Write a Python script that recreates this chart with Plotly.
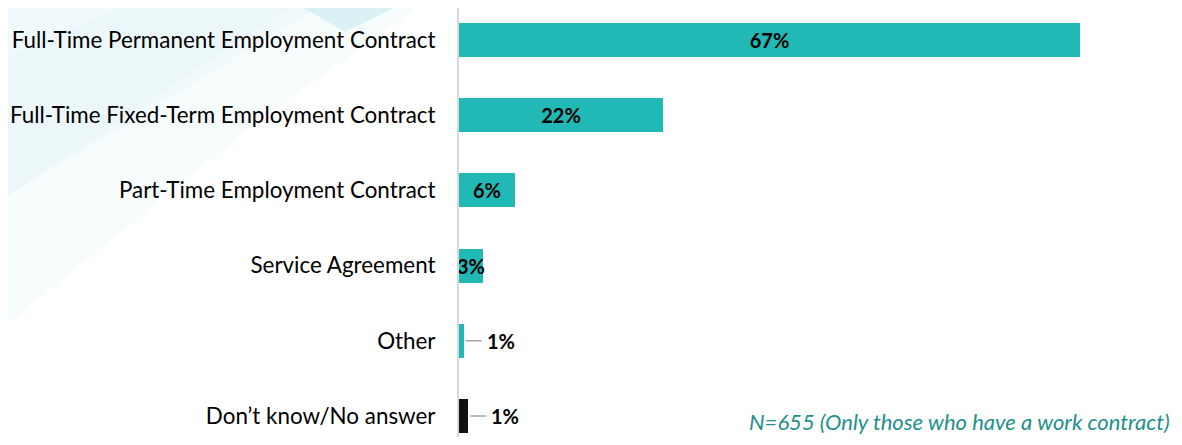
import plotly.graph_objects as go

# survey answers, top to bottom
categories = [
    "Full-Time Permanent Employment Contract",
    "Full-Time Fixed-Term Employment Contract",
    "Part-Time Employment Contract",
    "Service Agreement",
    "Other",
    "Don\u2019t know/No answer",
]
bar_lengths = [67, 22, 6, 2.6, 0.5, 1.0]
value_labels = ["67%", "22%", "6%", "3%", "1%", "1%"]
bar_colors = ["#21B9B5", "#21B9B5", "#21B9B5", "#21B9B5", "#21B9B5", "#111111"]
note = "N=655 (Only those who have a work contract)"

# the page has an 8px body margin, so the figure is sized to fit inside it
W, H = 1166, 429
L, R = 451, 32


def to_paper(px, py):
    # page pixel -> paper coords (paper spans the plot area)
    return (px - 8 - L) / (W - L - R), 1 - (py - 8) / H


def poly(points):
    pts = [to_paper(x, y) for x, y in points]
    return "M " + " L ".join(f"{x:.4f} {y:.4f}" for x, y in pts) + " Z"


inside_text = [t if v >= 2 else "" for v, t in zip(bar_lengths, value_labels)]

fig = go.Figure()
fig.add_trace(go.Bar(
    x=bar_lengths,
    y=categories,
    orientation="h",
    width=0.45,
    marker=dict(color=bar_colors, line=dict(width=0)),
    text=inside_text,
    textposition="inside",
    insidetextanchor="middle",
    textangle=0,
    constraintext="none",
    textfont=dict(family="Lato", size=20, color="black", weight="bold"),
    hoverinfo="skip",
))

# small bars get their label outside with a short leader line
for v, cat, t in zip(bar_lengths, categories, value_labels):
    if v < 2:
        fig.add_annotation(
            x=v, y=cat, text="<b>" + t + "</b>",
            showarrow=True, arrowhead=0, arrowwidth=1.5, arrowcolor="#a6a6a6",
            ax=18, ay=0, xanchor="left", standoff=2, borderpad=4,
            font=dict(family="Lato", size=20, color="black"),
        )

fig.add_annotation(
    x=to_paper(1172, 0)[0], y=to_paper(0, 437)[1], xref="paper", yref="paper",
    xanchor="right", yanchor="bottom",
    text=note, showarrow=False,
    font=dict(family="Lato", size=22, color="#23908C", style="italic"),
)

# faint background wash like the slide template
bg = [
    ([(0, 0), (430, 0), (260, 120), (0, 330)], "rgba(214,238,244,0.2)"),
    ([(0, 0), (330, 0), (150, 110), (0, 200)], "rgba(214,238,244,0.2)"),
    ([(0, 60), (140, 0), (300, 0), (0, 200)], "rgba(225,243,247,0.25)"),
    ([(290, 0), (410, 0), (345, 32)], "rgba(185,228,236,0.45)"),
]
for pts, col in bg:
    fig.add_shape(type="path", path=poly(pts), xref="paper", yref="paper",
                  fillcolor=col, line=dict(width=0), layer="below")

fig.update_layout(
    width=W, height=H,
    margin=dict(l=L, r=R, t=0, b=0),
    paper_bgcolor="white",
    plot_bgcolor="rgba(0,0,0,0)",
    showlegend=False,
    bargap=0,
    xaxis=dict(range=[0, 73.7], visible=False, fixedrange=True),
    yaxis=dict(
        type="category",
        categoryorder="array",
        categoryarray=categories,
        range=[5.279, -0.4255],
        showline=True, linecolor="#d9d9d9", linewidth=2,
        ticks="", showgrid=False,
        ticklabelstandoff=17,
        tickfont=dict(family="Lato", size=22.4, color="black"),
    ),
)

fig.write_html("out.html")
